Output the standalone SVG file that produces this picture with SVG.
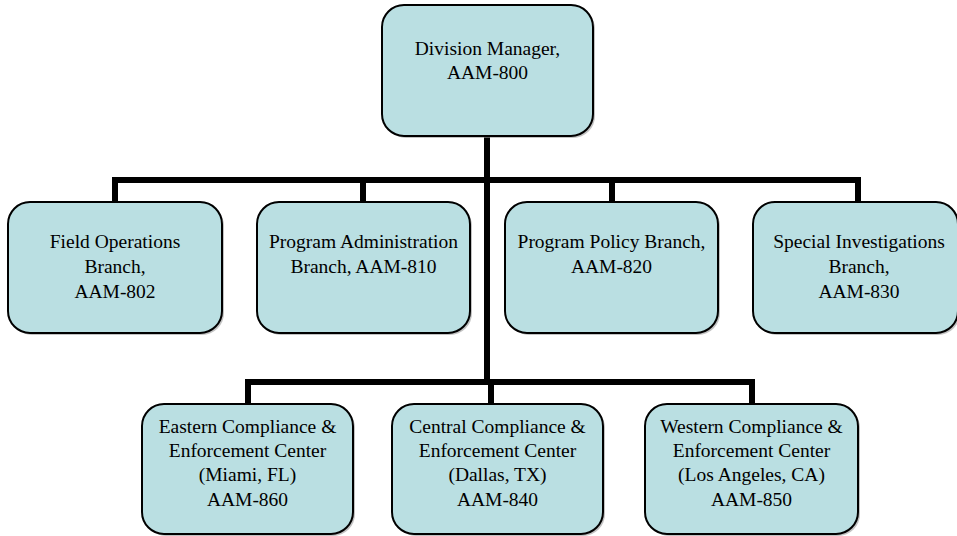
<svg xmlns="http://www.w3.org/2000/svg" width="957" height="536" viewBox="0 0 957 536">
<style>
.box{fill:#badfe2;stroke:#000;stroke-width:2}
.sh{fill:#999;opacity:0.6}
text{font-family:'Liberation Serif','DejaVu Serif',serif;font-size:19.5px;fill:#000;text-anchor:middle}
.c{stroke:#000;stroke-width:6;fill:none}
</style>
<rect width="957" height="536" fill="#fff"/>
<g id="connectors">
<path class="c" d="M487,136 V382"/>
<path class="c" d="M115,202 V180 H858 V202"/>
<path class="c" d="M363,180 V202"/>
<path class="c" d="M612,180 V202"/>
<path class="c" d="M248,404 V382 H752 V404"/>
<path class="c" d="M491,382 V404"/>
</g>
<g id="n800">
<rect class="sh" x="384" y="7" width="211" height="131" rx="22"/>
<rect class="box" x="382" y="5" width="211" height="131" rx="22"/>
<text x="487.5" y="55" font-family="Liberation Serif, serif">Division Manager,</text>
<text x="487.5" y="79" font-family="Liberation Serif, serif">AAM-800</text>
</g>
<g id="n802" font-family="Liberation Serif, serif">
<rect class="sh" x="10" y="204" width="214" height="131" rx="22"/>
<rect class="box" x="8" y="202" width="214" height="131" rx="22"/>
<text x="115" y="248">Field Operations</text>
<text x="115" y="273">Branch,</text>
<text x="115" y="298">AAM-802</text>
</g>
<g id="n810">
<rect class="sh" x="259" y="204" width="213" height="131" rx="22"/>
<rect class="box" x="257" y="202" width="213" height="131" rx="22"/>
<text x="363.5" y="248">Program Administration</text>
<text x="363.5" y="273">Branch, AAM-810</text>
</g>
<g id="n820">
<rect class="sh" x="507" y="204" width="213" height="131" rx="22"/>
<rect class="box" x="505" y="202" width="213" height="131" rx="22"/>
<text x="611.5" y="248">Program Policy Branch,</text>
<text x="611.5" y="273">AAM-820</text>
</g>
<g id="n830">
<rect class="sh" x="755" y="204" width="205" height="131" rx="22"/>
<rect class="box" x="753" y="202" width="205" height="131" rx="22"/>
<text x="859" y="248">Special Investigations</text>
<text x="859" y="273">Branch,</text>
<text x="859" y="298">AAM-830</text>
</g>
<g id="n860">
<rect class="sh" x="144" y="406" width="211" height="130" rx="22"/>
<rect class="box" x="142" y="404" width="211" height="130" rx="22"/>
<text x="247.5" y="433">Eastern Compliance &amp;</text>
<text x="247.5" y="457">Enforcement Center</text>
<text x="247.5" y="481">(Miami, FL)</text>
<text x="247.5" y="506">AAM-860</text>
</g>
<g id="n840">
<rect class="sh" x="394" y="406" width="211" height="130" rx="22"/>
<rect class="box" x="392" y="404" width="211" height="130" rx="22"/>
<text x="497.5" y="433">Central Compliance &amp;</text>
<text x="497.5" y="457">Enforcement Center</text>
<text x="497.5" y="481">(Dallas, TX)</text>
<text x="497.5" y="506">AAM-840</text>
</g>
<g id="n850">
<rect class="sh" x="647" y="406" width="213" height="130" rx="22"/>
<rect class="box" x="645" y="404" width="213" height="130" rx="22"/>
<text x="751.5" y="433">Western Compliance &amp;</text>
<text x="751.5" y="457">Enforcement Center</text>
<text x="751.5" y="481">(Los Angeles, CA)</text>
<text x="751.5" y="506">AAM-850</text>
</g>
</svg>
